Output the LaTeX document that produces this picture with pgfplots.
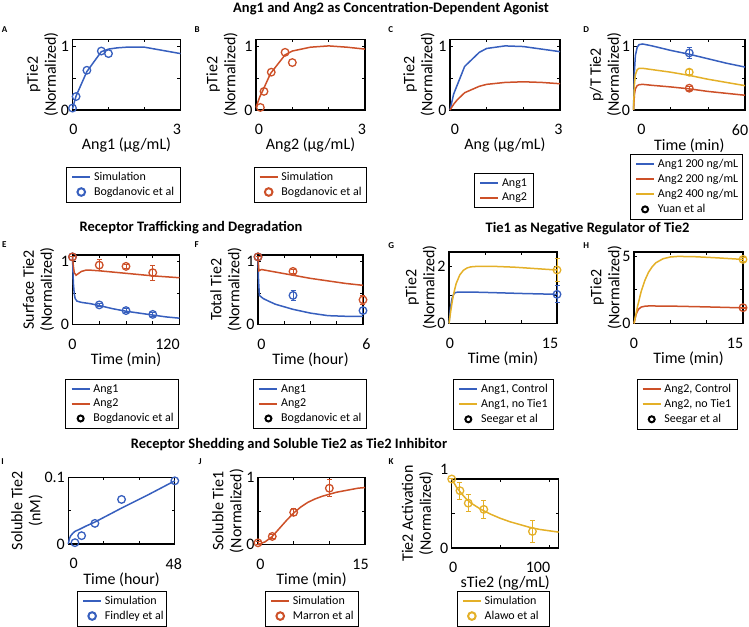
\documentclass[border=0pt]{standalone}
\usepackage{fontspec}
\setmainfont{Carlito}
\usepackage{pgfplots}
\pgfplotsset{compat=1.18}
\definecolor{cB}{RGB}{55,95,190}
\definecolor{cR}{RGB}{205,80,40}
\definecolor{cY}{RGB}{228,176,40}
\pgfplotsset{
 panel/.style={
   scale only axis, clip=false, anchor=north west,
   axis line style={line width=1.1pt, black},
   tick align=inside, xtick pos=both, ytick pos=both,
   major tick length=3pt,
   every tick/.style={black, line width=0.6pt},
   /pgf/number format/assume math mode=true,
   ticklabel style={font=\fontsize{16}{16}\selectfont},
   xticklabel style={yshift=-11pt},
   label style={font=\fontsize{16}{18}\selectfont},
   xlabel style={yshift=4pt},
   ylabel style={align=center},
   legend style={font=\fontsize{12}{13.5}\selectfont, draw=black, line width=0.8pt, anchor=north, inner xsep=2pt, inner ysep=3pt, row sep=1.2pt},
   legend cell align=left,
   legend image code/.code={\path (0pt,-1pt) (22pt,1pt); \draw[mark repeat=2,mark phase=2,##1,line width=2pt] plot coordinates {(3pt,0pt) (12pt,0pt) (21pt,0pt)};},
 },
 sim/.style={line width=1.5pt, mark=none},
 dat/.style={only marks, mark=o, mark size=3.8pt, line width=1.3pt},
 eb/.style={error bars/.cd, y dir=both, y explicit, error bar style={line width=1pt}, error mark options={rotate=90, mark size=2.5pt, line width=1pt}},
 yl/.style={ylabel style={yshift=#1}},
}
\newcommand{\blk}{\addlegendimage{only marks, mark=o, black, mark size=3pt}}
\newcommand{\R}[2]{\hspace*{#1pt}#2}
\newcommand{\Lf}[2]{#2\hspace*{#1pt}}
\newcommand{\LB}[2]{\makebox[#1pt][l]{#2}}
\begin{document}
\begin{tikzpicture}
\path[use as bounding box] (0,0) rectangle (749pt,626pt);
\tikzset{ttl/.style={font=\bfseries\fontsize{14.5}{14.5}\selectfont}, let/.style={font=\bfseries\fontsize{9}{9}\selectfont}}
\node[ttl] at (391pt,617.5pt) {Ang1 and Ang2 as Concentration-Dependent Agonist};
\node[ttl] at (191pt,398pt) {Receptor Trafficking and Degradation};
\node[ttl] at (587.5pt,397pt) {Tie1 as Negative Regulator of Tie2};
\node[ttl] at (289pt,181pt) {Receptor Shedding and Soluble Tie2 as Tie2 Inhibitor};
\node[let] at (4.5pt,596.5pt) {A};
\node[let] at (197.2pt,596.5pt) {B};
\node[let] at (390.8pt,596.5pt) {C};
\node[let] at (586.2pt,596.5pt) {D};
\node[let] at (4.2pt,381pt) {E};
\node[let] at (196.7pt,381pt) {F};
\node[let] at (391.2pt,380pt) {G};
\node[let] at (586.2pt,380pt) {H};
\node[let] at (2.5pt,164.3pt) {I};
\node[let] at (200pt,164.3pt) {J};
\node[let] at (391.2pt,164.3pt) {K};

% A
\begin{axis}[panel, yl=-4pt, at={(72.5pt,586.5pt)}, width=108pt, height=70.5pt,
 xmin=0,xmax=3,ymin=0,ymax=1.1, xtick={0,1,2,3}, xticklabels={\R{2}{0},,,\Lf{7}{3}}, ytick={0,0.5,1}, yticklabels={0,,1},
 xlabel={Ang1 (μg/mL)}, ylabel={pTie2\\(Normalized)},
 legend style={at={(0.47,-0.804)}}]
\addplot[sim,cB] coordinates {(0,0.02) (0.1,0.22) (0.4,0.6) (0.8,0.91) (1,0.95) (1.25,0.97) (1.5,0.98) (2,0.98) (2.5,0.93) (3,0.88)};
\addplot[dat,cB] coordinates {(0,0.03) (0.1,0.21) (0.4,0.62) (0.8,0.92) (1.0,0.88)};
\legend{\LB{82}{Simulation},\LB{82}{Bogdanovic et al}}
\end{axis}
% B
\begin{axis}[panel, yl=0pt, at={(256pt,586.5pt)}, width=109pt, height=70.5pt,
 xmin=0,xmax=3,ymin=0,ymax=1.1, xtick={0,1,2,3}, xticklabels={\R{6}{0},,,\Lf{6}{3}}, ytick={0,0.5,1}, yticklabels={0,,1},
 xlabel={Ang2 (μg/mL)}, ylabel={pTie2\\(Normalized)},
 legend style={at={(0.495,-0.804)}}]
\addplot[sim,cR] coordinates {(0,0.04) (0.1,0.2) (0.2,0.32) (0.4,0.57) (0.8,0.86) (1,0.92) (1.5,0.98) (2,1.0) (2.5,0.98) (3,0.95)};
\addplot[dat,cR] coordinates {(0.12,0.04) (0.22,0.29) (0.42,0.59) (0.8,0.9) (1.0,0.74)};
\legend{\LB{80.5}{Simulation},\LB{80.5}{Bogdanovic et al}}
\end{axis}
% C
\begin{axis}[panel, yl=-3pt, at={(450pt,586.5pt)}, width=110pt, height=70.5pt,
 xmin=0,xmax=3,ymin=0,ymax=1.1, xtick={0,1,2,3}, xticklabels={\R{10}{0},,,\Lf{3}{3}}, ytick={0,0.5,1}, yticklabels={0,,1},
 xlabel={Ang (μg/mL)}, ylabel={pTie2\\(Normalized)},
 legend style={at={(0.489,-0.898)}}]
\addplot[sim,cB] coordinates {(0,0) (0.1,0.25) (0.4,0.68) (0.8,0.9) (1,0.96) (1.5,1.0) (2,0.99) (2.5,0.95) (3,0.91)};
\addplot[sim,cR] coordinates {(0,0) (0.1,0.09) (0.2,0.16) (0.4,0.27) (0.8,0.37) (1,0.4) (1.5,0.43) (2,0.44) (2.5,0.43) (3,0.41)};
\legend{\LB{27}{Ang1},\LB{27}{Ang2}}
\end{axis}
% D
\begin{axis}[panel, yl=-6pt, at={(633.5pt,586.5pt)}, width=111.5pt, height=70.5pt,
 xmin=0,xmax=60,ymin=0,ymax=1.1, xtick={0,20,40,60}, xticklabels={\R{16}{0},,,\Lf{10}{60}}, ytick={0,0.5,1}, yticklabels={0,,1},
 xlabel={Time (min)}, ylabel={p/T Tie2\\(Normalized)},
 legend style={at={(0.474,-0.624)}}]
\addplot[sim,cB] coordinates {(0,0) (0.5,0.6) (1,0.85) (2,0.98) (3,1.02) (5,1.03) (10,1.0) (20,0.93) (30,0.87) (40,0.8) (50,0.73) (60,0.67)};
\addplot[sim,cR] coordinates {(0,0) (0.5,0.24) (1,0.33) (2,0.38) (3,0.395) (5,0.4) (10,0.385) (20,0.36) (30,0.33) (40,0.29) (50,0.26) (60,0.23)};
\addplot[sim,cY] coordinates {(0,0) (0.5,0.4) (1,0.55) (2,0.63) (3,0.65) (5,0.65) (10,0.63) (20,0.59) (30,0.54) (40,0.48) (50,0.43) (60,0.38)};
\addplot[dat,cB,forget plot,eb] coordinates {(30,0.89) +- (0,0.08)};
\addplot[dat,cY,forget plot,eb] coordinates {(30,0.59) +- (0,0.04)};
\addplot[dat,cR,forget plot,eb] coordinates {(30,0.34) +- (0,0.03)};
\blk
\legend{\LB{80.5}{Ang1 200 ng/mL},\LB{80.5}{Ang2 200 ng/mL},\LB{80.5}{Ang2 400 ng/mL},\LB{80.5}{Yuan et al}}
\end{axis}
% E
\begin{axis}[panel, yl=0pt, at={(72.5pt,371pt)}, width=107pt, height=69.5pt,
 xmin=0,xmax=120,ymin=0,ymax=1.1, xtick={0,30,60,90,120}, xticklabels={0,,,,\Lf{24}{120}}, ytick={0,0.5,1}, yticklabels={0,,1},
 xlabel={Time (min)}, ylabel={Surface Tie2\\(Normalized)},
 legend style={at={(0.464,-0.788)}}]
\addplot[sim,cB] coordinates {(0,1.07) (0.5,0.85) (1,0.65) (2,0.48) (3,0.41) (5,0.37) (10,0.35) (20,0.33) (30,0.3) (45,0.25) (60,0.21) (75,0.18) (90,0.15) (105,0.12) (120,0.1)};
\addplot[sim,cR] coordinates {(0,1.07) (1,0.92) (2,0.82) (4,0.78) (6,0.8) (10,0.84) (15,0.86) (20,0.86) (30,0.85) (60,0.81) (90,0.77) (120,0.74)};
\addplot[dat,cB,forget plot,eb] coordinates {(0,1.07) +- (0,0) (30,0.31) +- (0,0.03) (60,0.22) +- (0,0.03) (90,0.16) +- (0,0.03)};
\addplot[dat,cR,forget plot,eb] coordinates {(0,1.07) +- (0,0) (30,0.94) +- (0,0.09) (60,0.92) +- (0,0.03) (90,0.82) +- (0,0.12)};
\blk
\legend{\LB{81}{Ang1},\LB{81}{Ang2},\LB{81}{Bogdanovic et al}}
\end{axis}
% F
\begin{axis}[panel, yl=-2pt, at={(258pt,371pt)}, width=105pt, height=69.5pt,
 xmin=0,xmax=6,ymin=0,ymax=1.1, xtick={0,1.5,3,4.5,6}, xticklabels={\R{7}{0},,,,\R{7}{6}}, ytick={0,0.5,1}, yticklabels={0,,1},
 xlabel={Time (hour)}, ylabel={Total Tie2\\(Normalized)},
 legend style={at={(0.497,-0.788)}}]
\addplot[sim,cB] coordinates {(0,1.07) (0.03,0.7) (0.08,0.46) (0.3,0.41) (0.6,0.37) (1,0.32) (1.5,0.28) (2,0.24) (3,0.18) (4,0.14) (5,0.13) (6,0.13)};
\addplot[sim,cR] coordinates {(0,1.07) (0.05,0.85) (0.2,0.87) (1,0.83) (2,0.78) (3,0.73) (4,0.69) (5,0.65) (6,0.62)};
\addplot[dat,cB,forget plot,eb] coordinates {(0,1.07) +- (0,0) (2,0.46) +- (0,0.08) (6,0.22) +- (0,0.05)};
\addplot[dat,cR,forget plot,eb] coordinates {(0,1.07) +- (0,0) (2,0.84) +- (0,0.03) (6,0.39) +- (0,0.07)};
\blk
\legend{\LB{81.5}{Ang1},\LB{81.5}{Ang2},\LB{81.5}{Bogdanovic et al}}
\end{axis}
% G
\begin{axis}[panel, yl=-6pt, at={(449pt,374pt)}, width=108pt, height=71.5pt,
 xmin=0,xmax=15,ymin=0,ymax=2.5, xtick={0,5,10,15}, xticklabels={\R{2}{0},,,\Lf{14}{15}}, ytick={0,1,2}, yticklabels={0,,2},
 xlabel={Time (min)}, ylabel={pTie2\\(Normalized)},
 legend style={at={(0.503,-0.776)}}]
\addplot[sim,cB] coordinates {(0,0) (0.2,0.55) (0.4,0.85) (0.6,1.0) (0.8,1.07) (1,1.09) (1.5,1.1) (3,1.1) (6,1.08) (10,1.05) (15,1.02)};
\addplot[sim,cY] coordinates {(0,0) (0.25,0.45) (0.5,0.85) (0.75,1.15) (1,1.4) (1.5,1.7) (2,1.86) (2.5,1.94) (3,1.98) (4,2.0) (6,2.0) (9,1.97) (12,1.92) (15,1.87)};
\addplot[dat,cY,forget plot,eb] coordinates {(15,1.87) +- (0,0.4)};
\addplot[dat,cB,forget plot,eb] coordinates {(15,1.02) +- (0,0.3)};
\blk
\legend{\LB{68}{Ang1, Control},\LB{68}{Ang1, no Tie1},\LB{68}{Seegar et al}}
\end{axis}
% H
\begin{axis}[panel, yl=-6pt, at={(634pt,374pt)}, width=109pt, height=71.5pt,
 xmin=0,xmax=15,ymin=0,ymax=5.3, xtick={0,5,10,15}, xticklabels={0,,,\Lf{16}{15}}, ytick={0,2.5,5}, yticklabels={0,,5},
 xlabel={Time (min)}, ylabel={pTie2\\(Normalized)},
 legend style={at={(0.486,-0.776)}}]
\addplot[sim,cR] coordinates {(0,0) (0.3,0.7) (0.6,1.05) (1,1.22) (1.5,1.28) (2,1.3) (5,1.29) (10,1.23) (15,1.16)};
\addplot[sim,cY] coordinates {(0,0) (0.5,1.3) (1,2.4) (1.5,3.2) (2,3.8) (2.5,4.2) (3,4.5) (4,4.8) (5,4.93) (6,4.97) (8,4.96) (11,4.88) (15,4.75)};
\addplot[dat,cY,forget plot,eb] coordinates {(15,4.75) +- (0,0.12)};
\addplot[dat,cR,forget plot,eb] coordinates {(15,1.17) +- (0,0.05)};
\blk
\legend{\LB{68.5}{Ang2, Control},\LB{68.5}{Ang2, no Tie1},\LB{68.5}{Seegar et al}}
\end{axis}
% I
\begin{axis}[panel, yl=-5pt, at={(68.3pt,148.5pt)}, width=106.5pt, height=66.5pt,
 xmin=0,xmax=48,ymin=0,ymax=0.1, xtick={0,16,32,48}, xticklabels={\R{11}{0},,,\Lf{2}{48}}, ytick={0,0.05,0.1}, yticklabels={0,,0.1},
 xlabel={Time (hour)}, ylabel={Soluble Tie2\\(nM)},
 legend style={at={(0.501,-0.702)}}]
\addplot[sim,cB] coordinates {(0,0) (0.5,0.008) (1,0.012) (2,0.016) (3,0.019) (5,0.022) (8,0.027) (12,0.033) (24,0.054) (36,0.074) (48,0.095)};
\addplot[dat,cB] coordinates {(3,0.002) (6,0.0125) (12,0.031) (24,0.067) (48,0.095)};
\legend{\LB{57}{Simulation},\LB{57}{Findley et al}}
\end{axis}
% J
\begin{axis}[panel, yl=-4pt, at={(258pt,148.5pt)}, width=107pt, height=67pt,
 xmin=0,xmax=15,ymin=0,ymax=1, xtick={0,5,10,15}, xticklabels={\R{5}{0},,,\Lf{9}{15}}, ytick={0,0.5,1}, yticklabels={0,,1},
 xlabel={Time (min)}, ylabel={Soluble Tie1\\(Normalized)},
 legend style={at={(0.502,-0.69)}}]
\addplot[sim,cR] coordinates {(0,0) (1,0.04) (2,0.12) (3,0.24) (4,0.36) (5,0.47) (6,0.56) (7,0.63) (8,0.68) (9,0.72) (10,0.75) (11,0.78) (12,0.8) (13,0.82) (14,0.84) (15,0.85)};
\addplot[dat,cR,eb] coordinates {(0,0.025) +- (0,0.02) (2,0.12) +- (0,0.03) (5,0.48) +- (0,0.05) (10,0.84) +- (0,0.13)};
\legend{\LB{61}{Simulation},\LB{61}{Marron et al}}
\end{axis}
% K
\begin{axis}[panel, yl=0pt, at={(451.7pt,147pt)}, width=107pt, height=69pt,
 xmin=0,xmax=110,ymin=0,ymax=1, xtick={0,50,100}, xticklabels={\R{3}{0},,\Lf{22}{100}}, ytick={0,0.5,1}, yticklabels={0,,\smash{\raisebox{4pt}{1}}},
 xlabel={sTie2 (ng/mL)}, ylabel={Tie2 Activation\\(Normalized)},
 legend style={at={(0.483,-0.619)}}]
\addplot[sim,cY] coordinates {(0,1.0) (5,0.88) (10,0.79) (15,0.71) (20,0.65) (30,0.56) (40,0.49) (50,0.43) (60,0.38) (70,0.34) (80,0.3) (90,0.27) (100,0.25) (110,0.23)};
\addplot[dat,cY,eb] coordinates {(0,1.0) +- (0,0) (8.5,0.83) +- (0,0.12) (17,0.65) +- (0,0.12) (33,0.56) +- (0,0.13) (83,0.24) +- (0,0.16)};
\legend{\LB{61}{Simulation},\LB{61}{Alawo et al}}
\end{axis}
\end{tikzpicture}
\end{document}
